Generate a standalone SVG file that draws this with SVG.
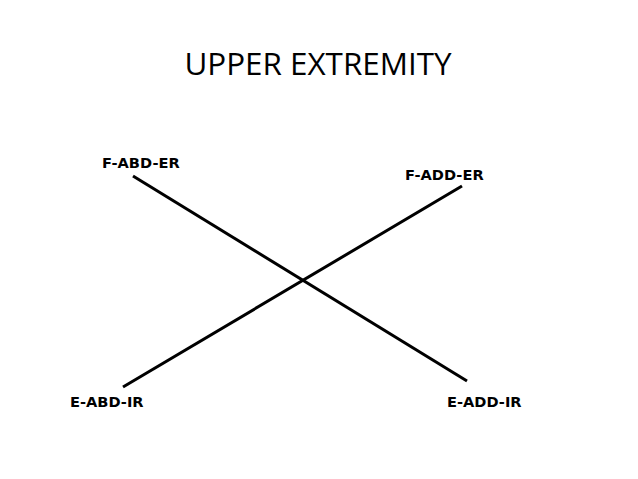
<svg xmlns="http://www.w3.org/2000/svg" width="638" height="479" viewBox="0 0 638 479">
<style>
.lbl{font-family:"DejaVu Sans",Verdana,sans-serif;font-weight:bold;font-size:14.6px;fill:#000}
.title{font-family:"Open Sans","Liberation Sans",sans-serif;font-size:31.4px;fill:#000}
.ln{stroke:#000;stroke-width:3;fill:none}
</style>
<rect width="638" height="479" fill="#fff"/>
<text class="title" x="318" y="75" text-anchor="middle">UPPER EXTREMITY</text>
<g id="connectors">
<line class="ln" x1="133" y1="176" x2="467" y2="381"/>
<line class="ln" x1="123" y1="387" x2="462" y2="186"/>
</g>
<g id="f-abd-er"><text class="lbl" x="102" y="168">F-ABD-ER</text></g>
<g id="f-add-er"><text class="lbl" x="405" y="180">F-ADD-ER</text></g>
<g id="e-abd-ir"><text class="lbl" x="70" y="407">E-ABD-IR</text></g>
<g id="e-add-ir"><text class="lbl" x="447" y="407">E-ADD-IR</text></g>
</svg>
